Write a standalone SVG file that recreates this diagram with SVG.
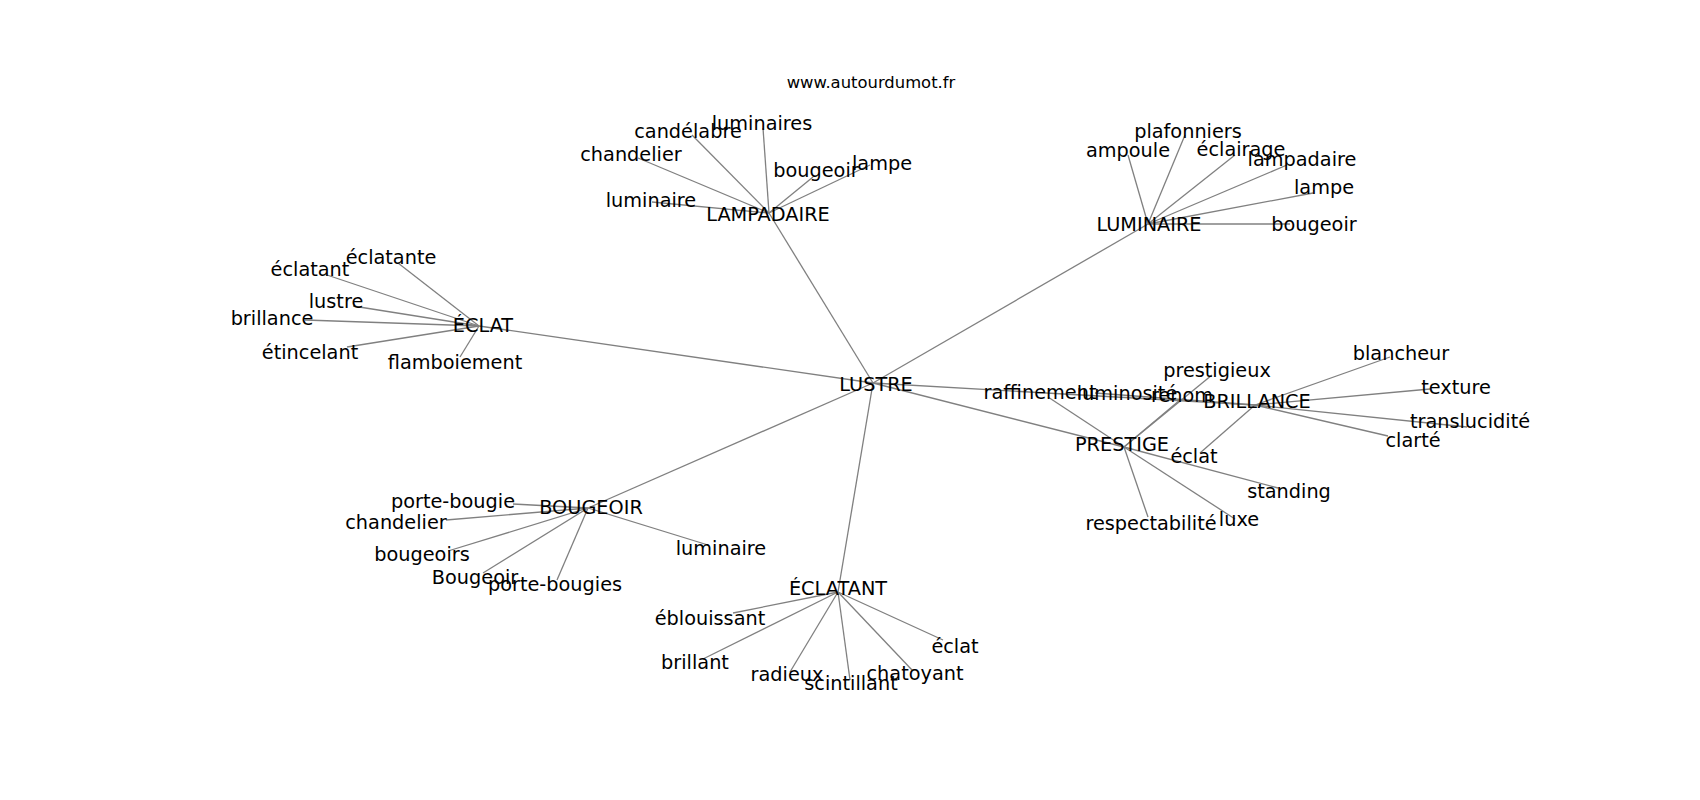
<svg xmlns="http://www.w3.org/2000/svg" width="1700" height="800" viewBox="0 0 1700 800">
<style>
.e{stroke:#808080;stroke-width:1.3;fill:none}
text{font-family:"DejaVu Sans",sans-serif;font-size:19.3px;fill:#000;text-anchor:middle}
.t{font-size:16.4px}
</style>
<rect width="1700" height="800" fill="#fff"/>
<text class="t" x="871" y="88">www.autourdumot.fr</text>
<g id="edges">
<line class="e" x1="873" y1="383" x2="769" y2="213"/>
<line class="e" x1="873" y1="383" x2="1148" y2="224"/>
<line class="e" x1="873" y1="383" x2="479" y2="326"/>
<line class="e" x1="873" y1="383" x2="588" y2="508"/>
<line class="e" x1="873" y1="383" x2="838" y2="592"/>
<line class="e" x1="873" y1="383" x2="1124" y2="447"/>
<line class="e" x1="873" y1="383" x2="1255" y2="405"/>
<line class="e" x1="769" y1="213" x2="763" y2="128"/>
<line class="e" x1="769" y1="213" x2="692" y2="135"/>
<line class="e" x1="769" y1="213" x2="638" y2="158"/>
<line class="e" x1="769" y1="213" x2="813" y2="177"/>
<line class="e" x1="769" y1="213" x2="870" y2="165"/>
<line class="e" x1="769" y1="213" x2="652" y2="202"/>
<line class="e" x1="1148" y1="224" x2="1128" y2="155"/>
<line class="e" x1="1148" y1="224" x2="1185" y2="135"/>
<line class="e" x1="1148" y1="224" x2="1235" y2="155"/>
<line class="e" x1="1148" y1="224" x2="1287" y2="165"/>
<line class="e" x1="1148" y1="224" x2="1313" y2="193"/>
<line class="e" x1="1148" y1="224" x2="1290" y2="224"/>
<line class="e" x1="479" y1="326" x2="398" y2="263"/>
<line class="e" x1="479" y1="326" x2="327" y2="275"/>
<line class="e" x1="479" y1="326" x2="353" y2="306"/>
<line class="e" x1="479" y1="326" x2="305" y2="320"/>
<line class="e" x1="479" y1="326" x2="347" y2="347"/>
<line class="e" x1="479" y1="326" x2="460" y2="357"/>
<line class="e" x1="588" y1="508" x2="513" y2="504"/>
<line class="e" x1="588" y1="508" x2="446" y2="520"/>
<line class="e" x1="588" y1="508" x2="448" y2="551"/>
<line class="e" x1="588" y1="508" x2="483" y2="573"/>
<line class="e" x1="588" y1="508" x2="557" y2="580"/>
<line class="e" x1="588" y1="508" x2="708" y2="545"/>
<line class="e" x1="838" y1="592" x2="733" y2="613"/>
<line class="e" x1="838" y1="592" x2="703" y2="659"/>
<line class="e" x1="838" y1="592" x2="790" y2="672"/>
<line class="e" x1="838" y1="592" x2="850" y2="680"/>
<line class="e" x1="838" y1="592" x2="912" y2="670"/>
<line class="e" x1="838" y1="592" x2="943" y2="640"/>
<line class="e" x1="1124" y1="447" x2="1048" y2="397"/>
<line class="e" x1="1124" y1="447" x2="1180" y2="400"/>
<line class="e" x1="1124" y1="447" x2="1212" y2="375"/>
<line class="e" x1="1124" y1="447" x2="1278" y2="488"/>
<line class="e" x1="1124" y1="447" x2="1235" y2="519"/>
<line class="e" x1="1124" y1="447" x2="1148" y2="517"/>
<line class="e" x1="1255" y1="405" x2="1390" y2="357"/>
<line class="e" x1="1255" y1="405" x2="1430" y2="389"/>
<line class="e" x1="1255" y1="405" x2="1467" y2="427"/>
<line class="e" x1="1255" y1="405" x2="1388" y2="436"/>
<line class="e" x1="1255" y1="405" x2="1200" y2="453"/>
<line class="e" x1="1255" y1="405" x2="1095" y2="393"/>
</g>
<g id="n-lustre"><text x="876" y="391">LUSTRE</text></g>
<g id="n-lampadaire"><text x="768" y="221">LAMPADAIRE</text></g>
<g id="n-luminaires"><text x="762" y="130">luminaires</text></g>
<g id="n-candelabre"><text x="688" y="138">candélabre</text></g>
<g id="n-chandelier1"><text x="631" y="161">chandelier</text></g>
<g id="n-bougeoir1"><text x="816" y="177">bougeoir</text></g>
<g id="n-lampe1"><text x="882" y="170">lampe</text></g>
<g id="n-luminaire1"><text x="651" y="207">luminaire</text></g>
<g id="n-luminaire-hub"><text x="1149" y="231">LUMINAIRE</text></g>
<g id="n-plafonniers"><text x="1188" y="138">plafonniers</text></g>
<g id="n-ampoule"><text x="1128" y="157">ampoule</text></g>
<g id="n-eclairage"><text x="1241" y="156">éclairage</text></g>
<g id="n-lampadaire2"><text x="1302" y="166">lampadaire</text></g>
<g id="n-lampe2"><text x="1324" y="194">lampe</text></g>
<g id="n-bougeoir2"><text x="1314" y="231">bougeoir</text></g>
<g id="n-eclat-hub"><text x="483" y="332">ÉCLAT</text></g>
<g id="n-eclatante"><text x="391" y="264">éclatante</text></g>
<g id="n-eclatant"><text x="310" y="276">éclatant</text></g>
<g id="n-lustre2"><text x="336" y="308">lustre</text></g>
<g id="n-brillance"><text x="272" y="325">brillance</text></g>
<g id="n-etincelant"><text x="310" y="359">étincelant</text></g>
<g id="n-flamboiement"><text x="455" y="369">flamboiement</text></g>
<g id="n-raffinement"><text x="1040" y="399">raffinement</text></g>
<g id="n-luminosite"><text x="1127" y="400">luminosité</text></g>
<g id="n-renom"><text x="1182" y="402">renom</text></g>
<g id="n-prestigieux"><text x="1217" y="377">prestigieux</text></g>
<g id="n-brillance-hub"><text x="1257" y="408">BRILLANCE</text></g>
<g id="n-prestige-hub"><text x="1122" y="451">PRESTIGE</text></g>
<g id="n-eclat2"><text x="1194" y="463">éclat</text></g>
<g id="n-standing"><text x="1289" y="498">standing</text></g>
<g id="n-respectabilite"><text x="1151" y="530">respectabilité</text></g>
<g id="n-luxe"><text x="1239" y="526">luxe</text></g>
<g id="n-blancheur"><text x="1401" y="360">blancheur</text></g>
<g id="n-texture"><text x="1456" y="394">texture</text></g>
<g id="n-translucidite"><text x="1470" y="428">translucidité</text></g>
<g id="n-clarte"><text x="1413" y="447">clarté</text></g>
<g id="n-bougeoir-hub"><text x="591" y="514">BOUGEOIR</text></g>
<g id="n-porte-bougie"><text x="453" y="508">porte-bougie</text></g>
<g id="n-chandelier2"><text x="396" y="529">chandelier</text></g>
<g id="n-bougeoirs"><text x="422" y="561">bougeoirs</text></g>
<g id="n-Bougeoir"><text x="475" y="584">Bougeoir</text></g>
<g id="n-porte-bougies"><text x="555" y="591">porte-bougies</text></g>
<g id="n-luminaire3"><text x="721" y="555">luminaire</text></g>
<g id="n-eclatant-hub"><text x="838" y="595">ÉCLATANT</text></g>
<g id="n-eblouissant"><text x="710" y="625">éblouissant</text></g>
<g id="n-brillant"><text x="695" y="669">brillant</text></g>
<g id="n-radieux"><text x="787" y="681">radieux</text></g>
<g id="n-scintillant"><text x="851" y="690">scintillant</text></g>
<g id="n-chatoyant"><text x="915" y="680">chatoyant</text></g>
<g id="n-eclat3"><text x="955" y="653">éclat</text></g>
</svg>
